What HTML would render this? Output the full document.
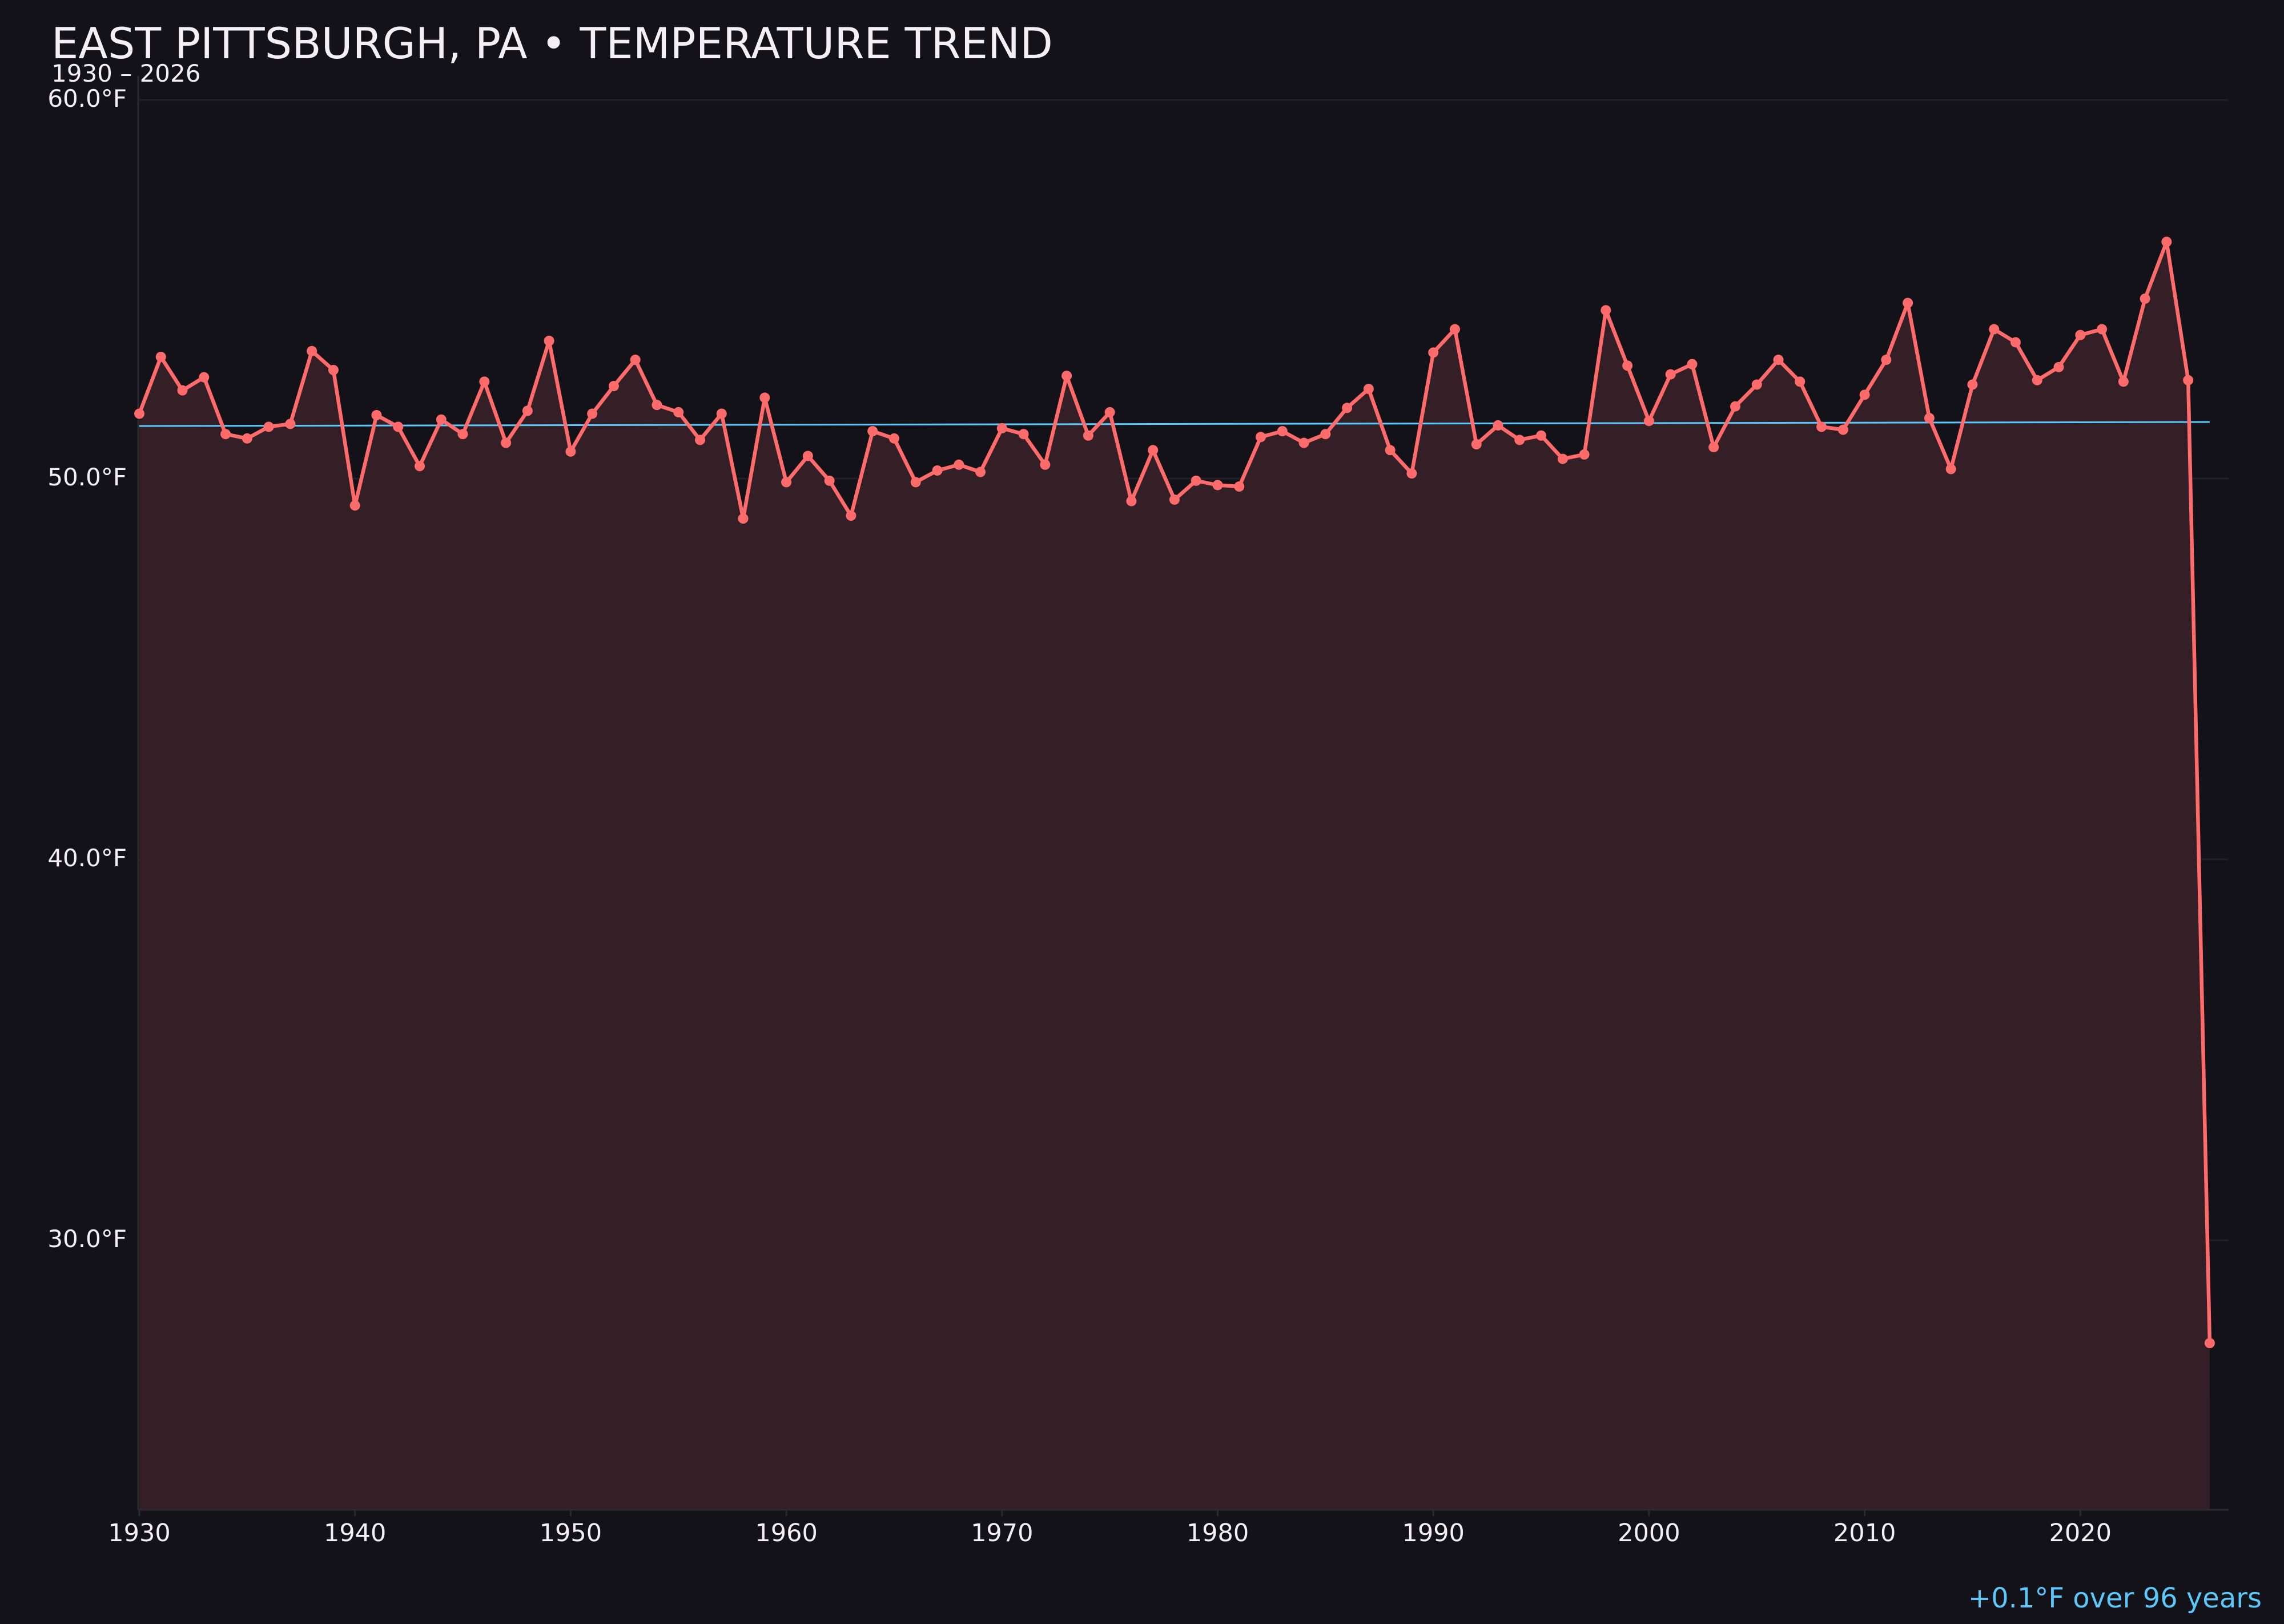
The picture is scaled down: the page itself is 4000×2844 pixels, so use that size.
<!DOCTYPE html>
<html><head><meta charset="utf-8"><style>
html,body{margin:0;padding:0;background:#131218;}
svg{display:block;}
text{font-family:"DejaVu Sans","Liberation Sans",sans-serif;}
</style></head><body>
<svg id="s" width="4000" height="2844" viewBox="0 0 4000 2844" xmlns="http://www.w3.org/2000/svg">
<rect width="4000" height="2844" fill="#131218"/>
<g id="grid"></g>
<path id="fill" fill="#351f26"/>
<line x1="242" y1="133" x2="242" y2="2644" stroke="#2a2930" stroke-width="3"/>
<line x1="242" y1="2644" x2="3903" y2="2644" stroke="#2a2930" stroke-width="3"/>
<line id="trend" stroke="#5ac8fa" stroke-width="3"/>
<polyline id="line" fill="none" stroke="#ff6b6b" stroke-width="6.5" stroke-linejoin="round"/>
<g id="dots" fill="#ff6b6b"></g>
<g id="xt" fill="#f2f0f5" font-size="43" text-anchor="middle"></g>
<g id="yt" fill="#f2f0f5" font-size="42" text-anchor="end"></g>
<text x="90" y="102" fill="#f2f0f5" font-size="75">EAST PITTSBURGH, PA • TEMPERATURE TREND</text>
<text x="90" y="143" fill="#f2f0f5" font-size="42">1930 – 2026</text>
<text x="3961" y="2815" fill="#5ac8fa" font-size="48" text-anchor="end">+0.1°F over 96 years</text>
</svg>
<script>
var d=[284,245,268,259,298,301,293,291,241,254,347,285,293,320,288,298,262,304,282,234,310,284,265,247,278,283,302,284,356,273,331,313,330,354,296,301,331,323,319,324,294,298,319,258,299,283,344,309,343,330,333,334,300,296,304,298,280,267,309,325,242,226,305,292,302,299,315,312,213,251,289,257,250,307,279,264,247,262,293,295,271,247,208,287,322,264,226,235,261,252,230,226,262,205,166,261,922];
var NS="http://www.w3.org/2000/svg";
function X(i){return 244+37.77*i;}
function Y(v){return v*2.551;}
var pts=[];for(var i=0;i<d.length;i++){pts.push(X(i).toFixed(1)+","+Y(d[i]).toFixed(1));}
document.getElementById("line").setAttribute("points",pts.join(" "));
document.getElementById("fill").setAttribute("d","M"+X(0)+",2644 L"+pts.join(" L")+" L"+X(96)+",2644 Z");
var dots=document.getElementById("dots");
for(var i=0;i<d.length;i++){var c=document.createElementNS(NS,"circle");c.setAttribute("cx",X(i));c.setAttribute("cy",Y(d[i]));c.setAttribute("r",9);dots.appendChild(c);}
var t=document.getElementById("trend");t.setAttribute("x1",X(0));t.setAttribute("y1",746);t.setAttribute("x2",X(96));t.setAttribute("y2",739);
var g=document.getElementById("grid"),yt=document.getElementById("yt");
var ys=[[175,"60.0°F"],[838,"50.0°F"],[1505,"40.0°F"],[2172,"30.0°F"]];
ys.forEach(function(a){var l=document.createElementNS(NS,"line");l.setAttribute("x1",242);l.setAttribute("x2",3903);l.setAttribute("y1",a[0]);l.setAttribute("y2",a[0]);l.setAttribute("stroke","#221f27");l.setAttribute("stroke-width","3");g.appendChild(l);
var tx=document.createElementNS(NS,"text");tx.setAttribute("x",222);tx.setAttribute("y",a[0]+12);tx.textContent=a[1];yt.appendChild(tx);});
var xt=document.getElementById("xt");
for(var y=1930;y<=2020;y+=10){var x=X(y-1930);var l=document.createElementNS(NS,"line");l.setAttribute("x1",x);l.setAttribute("x2",x);l.setAttribute("y1",2645);l.setAttribute("y2",2655);l.setAttribute("stroke","#2a2930");l.setAttribute("stroke-width","3");xt.appendChild(l);
var tx=document.createElementNS(NS,"text");tx.setAttribute("x",x);tx.setAttribute("y",2699);tx.textContent=y;xt.appendChild(tx);}
</script>
</body></html>
